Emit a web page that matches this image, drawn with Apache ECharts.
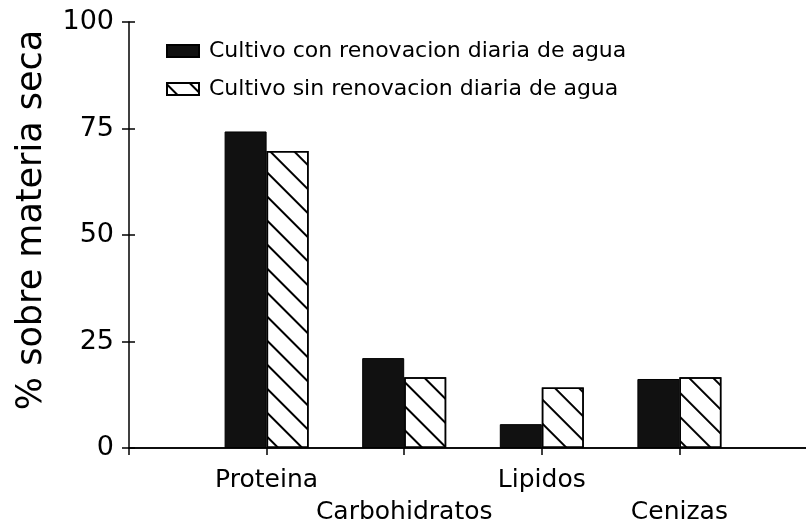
<!DOCTYPE html>
<html>
<head>
    <meta charset="UTF-8">
    <title>Composicion</title>
    <script src="https://cdn.jsdelivr.net/npm/echarts/dist/echarts.min.js"></script>
    <style>
        html, body { margin: 0; padding: 0; background: #fff; }
        #chart { width: 806px; height: 524px; }
    </style>
</head>
<body>
    <div id="chart"></div>
    <script>
        // datos (% sobre materia seca)
        const categorias = ['Proteina', 'Carbohidratos', 'Lipidos', 'Cenizas'];
        const conRenovacion = [74.3, 21.1, 5.6, 16.2];
        const sinRenovacion = [69.7, 16.6, 14.2, 16.6];
        const ticksY = [0, 25, 50, 75, 100];
        const nombres = ['Cultivo con renovacion diaria de agua', 'Cultivo sin renovacion diaria de agua'];

        // eje con un hueco vacio a cada lado
        const ejeX = [''].concat(categorias, ['']);
        const pad = arr => [null].concat(arr, [null]);
        const fuente = 'DejaVu Sans';
        const negro = { color: '#000', width: 1.5 };

        const chart = echarts.init(document.getElementById('chart'));
        chart.setOption({
            animation: false,
            textStyle: { fontFamily: fuente, color: '#000' },
            grid: { left: 129, top: 22, height: 426, width: 688, containLabel: false, outerBoundsMode: 'none' },
            legend: {
                orient: 'vertical',
                left: 166,
                top: 40,
                padding: 0,
                itemWidth: 32,
                itemHeight: 12,
                itemGap: 16,
                icon: 'rect',
                textStyle: { fontSize: 22, color: '#000', fontFamily: fuente, padding: [0, 0, 0, 5] },
                data: nombres
            },
            xAxis: [{
                type: 'category',
                data: ejeX,
                boundaryGap: false,
                axisLine: { lineStyle: negro },
                axisTick: { show: false },
                axisLabel: {
                    fontSize: 25,
                    color: '#000',
                    margin: 16,
                    lineHeight: 32,
                    interval: 0,
                    formatter: (v, i) => (i % 2 === 0 && v ? '\n' + v : v)
                }
            }, {
                type: 'category',
                data: ejeX,
                boundaryGap: false,
                position: 'top',
                axisLine: { lineStyle: negro },
                axisTick: { show: false },
                axisLabel: { show: false }
            }, {
                // solo las marcas bajo el eje, una por categoria
                type: 'value',
                min: 0,
                max: ejeX.length - 1,
                interval: 1,
                position: 'bottom',
                axisLine: { show: false },
                axisTick: { show: true, length: 7, lineStyle: negro },
                axisLabel: { show: false },
                splitLine: { show: false }
            }],
            yAxis: [{
                type: 'value',
                min: ticksY[0],
                max: ticksY[ticksY.length - 1],
                interval: 25,
                name: '% sobre materia seca',
                nameLocation: 'middle',
                nameGap: 80,
                nameTextStyle: { fontSize: 35, color: '#000', fontFamily: fuente, padding: [0, 0, 0, 30] },
                axisLine: { show: true, lineStyle: negro },
                axisTick: { show: true, length: 7, lineStyle: negro },
                axisLabel: { fontSize: 27, color: '#000', margin: 15 },
                splitLine: { show: false }
            }, {
                type: 'value',
                min: ticksY[0],
                max: ticksY[ticksY.length - 1],
                interval: 25,
                position: 'left',
                axisLine: { show: false },
                axisTick: { show: true, inside: true, length: 6, lineStyle: negro },
                axisLabel: { show: false },
                splitLine: { show: false }
            }],
            series: [{
                name: nombres[0],
                type: 'bar',
                data: pad(conRenovacion),
                barWidth: 42,
                barGap: '0%',
                itemStyle: { color: '#111', borderColor: '#000', borderWidth: 1 }
            }, {
                name: nombres[1],
                type: 'bar',
                data: pad(sinRenovacion),
                barWidth: 42,
                itemStyle: {
                    color: '#fff',
                    borderColor: '#000',
                    borderWidth: 1.5,
                    decal: {
                        symbol: 'rect',
                        symbolSize: 1,
                        color: '#000',
                        dashArrayX: [1, 0],
                        dashArrayY: [2, 15],
                        rotation: Math.PI / 4
                    }
                }
            }]
        });
    </script>
</body>
</html>
